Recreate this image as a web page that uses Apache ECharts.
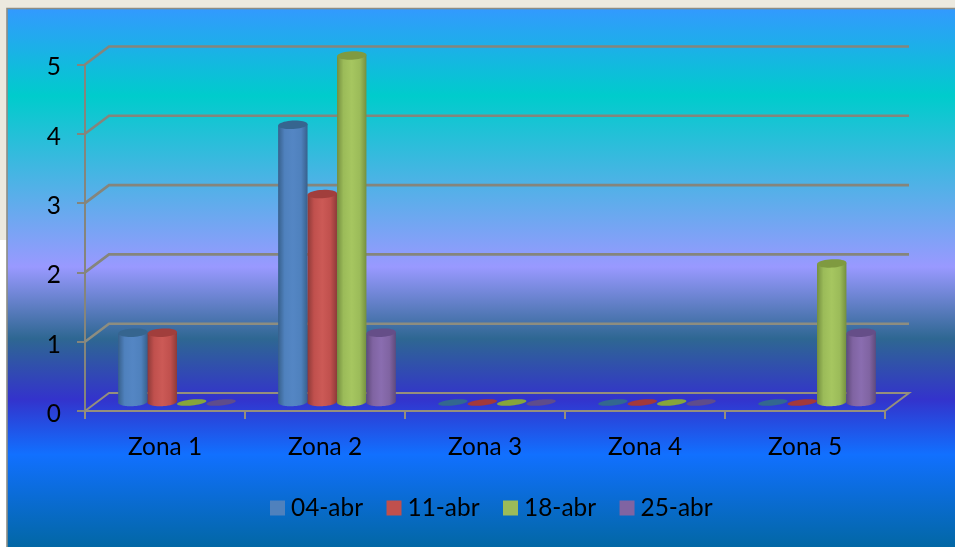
<!DOCTYPE html>
<html>
<head>
<meta charset="utf-8">
<style>html,body{margin:0;padding:0;background:#fff;overflow:hidden}#c{width:955px;height:547px}</style>
<script src="https://cdn.jsdelivr.net/npm/echarts@6/dist/echarts.min.js"></script>
</head>
<body>
<div id="c"></div>
<script>
const categories = ['Zona 1','Zona 2','Zona 3','Zona 4','Zona 5'];
const seriesNames = ['04-abr','11-abr','18-abr','25-abr'];
const abr04 = [1,4,0,0,0];
const abr11 = [1,3,0,0,0];
const abr18 = [0,5,0,0,2];
const abr25 = [0,1,0,0,1];
const yTicks = [0,1,2,3,4,5];

const FONT = 'Lato';
const DX = 24, DY = -18;            // depth of the 3D box
const LINE = '#85857c', FLOOR = '#958f7c';
const palette = [
  {base:'#4f81bd', light:'#5486c4', dark:'#37608c', cap:'#36658f', flat:'#33678f'},
  {base:'#c0504d', light:'#cc5a56', dark:'#8e3a38', cap:'#a13e3c', flat:'#a2393a'},
  {base:'#9bbb59', light:'#a6c660', dark:'#748f3f', cap:'#7f9a40', flat:'#86a53c'},
  {base:'#8064a2', light:'#8a6db0', dark:'#5f4a7c', cap:'#654e88', flat:'#5f4c8c'}
];

function ellipse(cx, cy, rx, ry, from, to, tilt) {
  const pts = [], n = 40;
  for (let i = 0; i <= n; i++) {
    const a = from + (to - from) * i / n;
    const x = rx * Math.cos(a), y = ry * Math.sin(a);
    pts.push([cx + x * Math.cos(tilt) - y * Math.sin(tilt), cy + x * Math.sin(tilt) + y * Math.cos(tilt)]);
  }
  return pts;
}

function cylinder(idx) {
  return function (params, api) {
    const cat = api.value(0), val = api.value(1);
    const top = api.coord([cat, val]), base = api.coord([cat, 0]);
    const band = api.size([1, 0])[0];
    const w = band * 0.184, rx = w / 2;
    const cx = top[0] + DX / 2 + (idx - 1.5) * w;
    const by = base[1] + DY / 2, ty = top[1] + DY / 2;
    const c = palette[idx];
    if (val === 0) {
      return {type:'polygon', shape:{points: ellipse(cx, by + 0.5, rx, 3, 0, Math.PI * 2, -6 * Math.PI / 180)},
              style:{fill:c.flat}};
    }
    const tilt = -3 * Math.PI / 180;
    const ry = 4.2;
    const bottomArc = ellipse(cx, by, rx, ry, 0, Math.PI, tilt).reverse();
    const pts = [ [cx - rx * Math.cos(tilt), ty - rx * Math.sin(tilt)] ]
      .concat(bottomArc)
      .concat([[cx + rx * Math.cos(tilt), ty + rx * Math.sin(tilt)]]);
    return {type:'group', children:[
      {type:'polygon', shape:{points:pts}, style:{fill:{type:'linear',x:0,y:0,x2:1,y2:0,colorStops:[
        {offset:0,color:c.dark},{offset:0.22,color:c.base},{offset:0.5,color:c.light},
        {offset:0.78,color:c.base},{offset:1,color:c.dark}]}}},
      {type:'polygon', shape:{points:ellipse(cx, ty, rx, ry, 0, Math.PI * 2, tilt)}, style:{fill:c.cap}}
    ]};
  };
}

function wall(params, api) {
  const v = api.value(1);
  const p = api.coord([0, v]);
  const cs = params.coordSys;
  const x0 = cs.x, x1 = cs.x + cs.width, y = p[1];
  const floor = v === 0;
  const pts = [[x0, y], [x0 + DX, y + DY], [x1 + DX, y + DY]];
  if (floor) pts.push([x1, y]);
  return {type:'polyline', shape:{points:pts},
          style:{fill:null, stroke: floor ? FLOOR : (v === 1 ? '#8d8d80' : LINE), lineWidth: floor ? 2 : 2.6}};
}

const values = [abr04, abr11, abr18, abr25];
const series = [{
  type:'custom', name:'walls', silent:true, clip:false, z:1,
  renderItem:wall, encode:{x:0,y:1},
  data:yTicks.map(v => [0, v])
}].concat(seriesNames.map((name, i) => ({
  type:'custom', name, clip:false, z:3 + i,
  itemStyle:{color:palette[i].base},
  renderItem:cylinder(i), encode:{x:0,y:1},
  data:values[i].map((v, k) => [k, v])
})));

const chart = echarts.init(document.getElementById('c'), null, {renderer:'canvas'});
chart.setOption({
  animation:false,
  backgroundColor:'#fff',
  graphic:{elements:[
    {type:'rect', z:-20, silent:true, shape:{x:0,y:0,width:955,height:240}, style:{fill:'#ece9df'}},
    {type:'rect', z:-19, silent:true, shape:{x:7,y:8.5,width:960,height:550},
     style:{stroke:'#8c8c84', lineWidth:1.6,
       fill:{type:'linear',x:0,y:0,x2:0,y2:1,colorStops:[
         {offset:0,color:'#3399ff'},{offset:0.16,color:'#00cccc'},{offset:0.47,color:'#9999ff'},
         {offset:0.60,color:'#2e6792'},{offset:0.71,color:'#3333cc'},{offset:0.81,color:'#1170ff'},
         {offset:1,color:'#006699'}]}}}
  ]},
  grid:{left:85, top:64.5, width:800, height:346.5, containLabel:false},
  xAxis:{type:'category', data:categories, boundaryGap:true,
    axisLine:{show:true,lineStyle:{color:FLOOR,width:2}},
    axisTick:{show:true,length:8,alignWithLabel:false,lineStyle:{color:FLOOR,width:2}},
    axisLabel:{interval:0,color:'#000',fontFamily:FONT,fontSize:24.4,margin:24},
    splitLine:{show:false}},
  yAxis:{type:'value', min:0, max:5, interval:1,
    axisLine:{show:true,lineStyle:{color:LINE,width:2}},
    axisTick:{show:true,length:8,lineStyle:{color:LINE,width:2}},
    axisLabel:{color:'#000',fontFamily:FONT,fontSize:24.4,margin:24,verticalAlign:'top',lineHeight:6},
    splitLine:{show:false}},
  legend:{data:seriesNames, left:265, top:491, icon:'rect', itemWidth:15, itemHeight:15, itemGap:23.5,
    textStyle:{color:'#000',fontFamily:FONT,fontSize:24.4,padding:[0,0,0,1]}},
  series
});
</script>
</body>
</html>
